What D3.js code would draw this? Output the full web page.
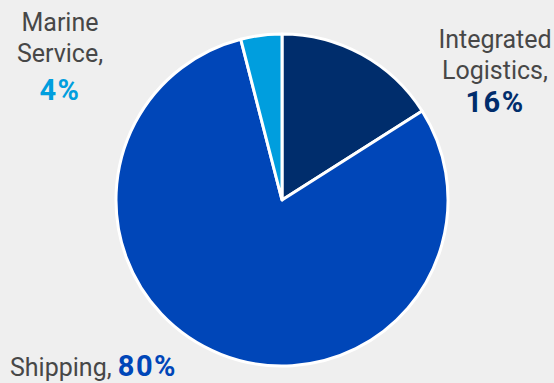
<!DOCTYPE html>
<html>
<head>
<meta charset="utf-8">
<script src="https://cdn.jsdelivr.net/npm/d3@7"></script>
<style>
  html, body { margin: 0; padding: 0; background: #efefef; }
  svg { display: block; font-family: Roboto, "Noto Sans", sans-serif; }
</style>
</head>
<body>
<svg id="chart" width="554" height="383"></svg>
<script>
// ----------
var segments = ['Integrated Logistics', 'Shipping', 'Marine Service'];
var shares = [16, 80, 4];
var colors = ['#002d6c', '#0046b8', '#009ede'];

// label lines per segment: name lines, then the percent
var labelLines = [['Integrated', 'Logistics,'], ['Shipping,'], ['Marine', 'Service,']];

var width = 554;
var height = 383;
var cx = 282;
var cy = 200;
var radius = 166;

var svg = d3.select('#chart');

var pie = d3.pie().sort(null).value(function(d) { return d; });
var arc = d3.arc().innerRadius(0).outerRadius(radius);

var g = svg.append('g').attr('transform', 'translate(' + cx + ',' + cy + ')');

g.selectAll('path')
  .data(pie(shares))
  .enter()
  .append('path')
  .attr('d', arc)
  .attr('fill', function(d, i) { return colors[i]; })
  .attr('stroke', '#ffffff')
  .attr('stroke-width', 3)
  .attr('stroke-linejoin', 'round');

// ----------
// stacked labels: Integrated Logistics (right) and Marine Service (left)
function stackedLabel(i, x, y, pctY) {
  var t = svg.append('g');
  labelLines[i].forEach(function(line, k) {
    t.append('text')
      .attr('x', x)
      .attr('y', y + k * 31)
      .attr('text-anchor', 'middle')
      .attr('fill', '#474747')
      .attr('font-size', 25)
      .text(line);
  });
  t.append('text')
    .attr('x', x)
    .attr('y', pctY)
    .attr('text-anchor', 'middle')
    .attr('fill', colors[i])
    .attr('font-size', 29)
    .attr('font-weight', 'bold')
    .attr('letter-spacing', 1.5)
    .text(shares[i] + '%');
}

stackedLabel(0, 495, 48, 112);
stackedLabel(2, 60, 31, 100);

// Shipping sits on one line, bottom left
var ship = svg.append('text')
  .attr('x', 10)
  .attr('y', 376);
ship.append('tspan')
  .attr('fill', '#474747')
  .attr('font-size', 25)
  .text(labelLines[1][0] + ' ');
ship.append('tspan')
  .attr('fill', colors[1])
  .attr('font-size', 29)
  .attr('font-weight', 'bold')
  .attr('letter-spacing', 1.5)
  .text(shares[1] + '%');
</script>
</body>
</html>
